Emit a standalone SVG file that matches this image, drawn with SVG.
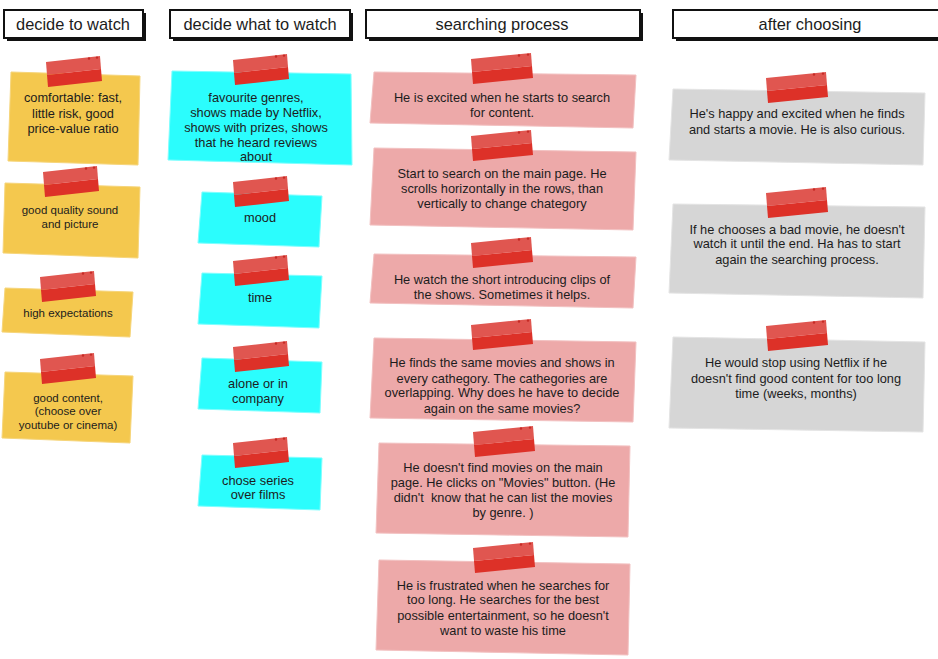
<svg xmlns="http://www.w3.org/2000/svg" width="938" height="659" viewBox="0 0 938 659">
<style>
  text { font-family: "Liberation Sans", Arial, sans-serif; fill: #1c1c1c; text-anchor: middle; }
  .h { font-size: 16.4px; }
  .t { font-size: 12.8px; }
  .s { font-size: 11.5px; }
  .yel { fill: #f4c84e; stroke: #f6d57a; stroke-width: 1; }
  .cya { fill: #2bfdfd; stroke: #7ffefe; stroke-width: 1; }
  .pnk { fill: #eda9a9; stroke: #f2c1c1; stroke-width: 1; }
  .gry { fill: #d6d6d6; stroke: #e4e4e4; stroke-width: 1; }
  .hbox { fill: #ffffff; stroke: #111111; stroke-width: 2; }
  .hsh { fill: #111111; }
</style>
<defs>
  <g id="tape56">
    <polygon points="0,6 54,0 55,13 1,19" fill="#e05650"/>
    <polygon points="1,19 55,13 56,25 2,31" fill="#dd3128"/>
    <circle cx="43" cy="2.5" r="1.2" fill="#c62a24"/>
    <circle cx="51" cy="1.6" r="1.2" fill="#c62a24"/>
  </g>
  <g id="tape62">
    <polygon points="0,6 60,0 61,13 1,19" fill="#e05650"/>
    <polygon points="1,19 61,13 62,25 2,31" fill="#dd3128"/>
    <circle cx="48" cy="2.5" r="1.2" fill="#c62a24"/>
    <circle cx="57" cy="1.6" r="1.2" fill="#c62a24"/>
  </g>
</defs>

<g id="header-decide-to-watch">
  <rect class="hsh" x="7" y="13" width="139" height="28"/>
  <rect class="hbox" x="4" y="10" width="139" height="28"/>
  <text class="h" x="73" y="30">decide to watch</text>
</g>
<g id="header-decide-what-to-watch">
  <rect class="hsh" x="173" y="13" width="180" height="28"/>
  <rect class="hbox" x="170" y="10" width="180" height="28"/>
  <text class="h" x="260" y="30">decide what to watch</text>
</g>
<g id="header-searching-process">
  <rect class="hsh" x="369" y="13" width="274" height="28"/>
  <rect class="hbox" x="366" y="10" width="274" height="28"/>
  <text class="h" x="502" y="30">searching process</text>
</g>
<g id="header-after-choosing">
  <rect class="hsh" x="676" y="13" width="270" height="28"/>
  <rect class="hbox" x="673" y="10" width="270" height="28"/>
  <text class="h" x="810" y="30">after choosing</text>
</g>

<!-- column 1: yellow -->
<g id="y1">
  <polygon class="yel" points="11,72 140,76 138,165 8,161"/>
  <use href="#tape56" transform="translate(46,56)"/>
  <text class="t" x="73" y="102">comfortable: fast,</text>
  <text class="t" x="73" y="118">little risk, good</text>
  <text class="t" x="73" y="133">price-value ratio</text>
</g>
<g id="y2">
  <polygon class="yel" points="5,183 140,187 138,258 3,253"/>
  <use href="#tape56" transform="translate(43,166)"/>
  <text class="s" x="70" y="214">good quality sound</text>
  <text class="s" x="70" y="228">and picture</text>
</g>
<g id="y3">
  <polygon class="yel" points="5,288 133,292 130,337 2,332"/>
  <use href="#tape56" transform="translate(40,271)"/>
  <text class="s" x="68" y="317">high expectations</text>
</g>
<g id="y4">
  <polygon class="yel" points="5,372 133,376 130,443 2,438"/>
  <use href="#tape56" transform="translate(40,353)"/>
  <text class="s" x="68" y="402">good content,</text>
  <text class="s" x="68" y="415">(choose over</text>
  <text class="s" x="68" y="429">youtube or cinema)</text>
</g>

<!-- column 2: cyan -->
<g id="c1">
  <polygon class="cya" points="172,71 351,74 352,165 168,160"/>
  <use href="#tape56" transform="translate(233,54)"/>
  <text class="t" x="256" y="102">favourite genres,</text>
  <text class="t" x="256" y="117">shows made by Netflix,</text>
  <text class="t" x="256" y="132">shows with prizes, shows</text>
  <text class="t" x="256" y="147">that he heard reviews</text>
  <text class="t" x="256" y="161">about</text>
</g>
<g id="c2">
  <polygon class="cya" points="202,192 322,196 319,247 198,243"/>
  <use href="#tape56" transform="translate(233,176)"/>
  <text class="t" x="260" y="222">mood</text>
</g>
<g id="c3">
  <polygon class="cya" points="202,273 322,276 319,328 198,324"/>
  <use href="#tape56" transform="translate(233,255)"/>
  <text class="t" x="260" y="302">time</text>
</g>
<g id="c4">
  <polygon class="cya" points="202,358 322,362 320,413 198,409"/>
  <use href="#tape56" transform="translate(233,341)"/>
  <text class="t" x="258" y="388">alone or in</text>
  <text class="t" x="258" y="403">company</text>
</g>
<g id="c5">
  <polygon class="cya" points="202,455 322,458 320,510 198,506"/>
  <use href="#tape56" transform="translate(233,437)"/>
  <text class="t" x="258" y="485">chose series</text>
  <text class="t" x="258" y="499">over films</text>
</g>

<!-- column 3: pink -->
<g id="p1">
  <polygon class="pnk" points="374,72 636,75 633,128 370,123"/>
  <use href="#tape62" transform="translate(471,53)"/>
  <text class="t" x="502" y="102">He is excited when he starts to search</text>
  <text class="t" x="502" y="117">for content.</text>
</g>
<g id="p2">
  <polygon class="pnk" points="374,148 636,152 633,230 370,225"/>
  <use href="#tape62" transform="translate(471,130)"/>
  <text class="t" x="502" y="178">Start to search on the main page. He</text>
  <text class="t" x="502" y="193">scrolls horizontally in the rows, than</text>
  <text class="t" x="502" y="208">vertically to change chategory</text>
</g>
<g id="p3">
  <polygon class="pnk" points="374,254 636,257 633,308 370,303"/>
  <use href="#tape62" transform="translate(471,237)"/>
  <text class="t" x="502" y="284">He watch the short introducing clips of</text>
  <text class="t" x="502" y="299">the shows. Sometimes it helps.</text>
</g>
<g id="p4">
  <polygon class="pnk" points="374,338 636,342 633,422 370,418"/>
  <use href="#tape62" transform="translate(471,319)"/>
  <text class="t" x="502" y="367">He finds the same movies and shows in</text>
  <text class="t" x="502" y="383">every cathegory. The cathegories are</text>
  <text class="t" x="502" y="397">overlapping. Why does he have to decide</text>
  <text class="t" x="502" y="413">again on the same movies?</text>
</g>
<g id="p5">
  <polygon class="pnk" points="379,443 630,446 628,537 376,533"/>
  <use href="#tape62" transform="translate(473,426)"/>
  <text class="t" x="503" y="472">He doesn't find movies on the main</text>
  <text class="t" x="503" y="487">page. He clicks on "Movies" button. (He</text>
  <text class="t" x="503" y="502" xml:space="preserve">didn't  know that he can list the movies</text>
  <text class="t" x="503" y="517">by genre. )</text>
</g>
<g id="p6">
  <polygon class="pnk" points="379,560 630,564 628,655 376,650"/>
  <use href="#tape62" transform="translate(473,542)"/>
  <text class="t" x="503" y="590">He is frustrated when he searches for</text>
  <text class="t" x="503" y="604">too long. He searches for the best</text>
  <text class="t" x="503" y="620">possible entertainment, so he doesn't</text>
  <text class="t" x="503" y="635">want to waste his time</text>
</g>

<!-- column 4: gray -->
<g id="g1">
  <polygon class="gry" points="673,89 925,93 923,165 669,160"/>
  <use href="#tape62" transform="translate(766,72)"/>
  <text class="t" x="797" y="118">He's happy and excited when he finds</text>
  <text class="t" x="797" y="134">and starts a movie. He is also curious.</text>
</g>
<g id="g2">
  <polygon class="gry" points="673,204 925,207 923,298 669,293"/>
  <use href="#tape62" transform="translate(766,187)"/>
  <text class="t" x="797" y="234">If he chooses a bad movie, he doesn't</text>
  <text class="t" x="797" y="248">watch it until the end. Ha has to start</text>
  <text class="t" x="797" y="264">again the searching process.</text>
</g>
<g id="g3">
  <polygon class="gry" points="673,337 925,342 923,432 669,428"/>
  <use href="#tape62" transform="translate(766,320)"/>
  <text class="t" x="796" y="367">He would stop using Netflix if he</text>
  <text class="t" x="796" y="383">doesn't find good content for too long</text>
  <text class="t" x="796" y="398">time (weeks, months)</text>
</g>

<g id="connectors"/>
</svg>
